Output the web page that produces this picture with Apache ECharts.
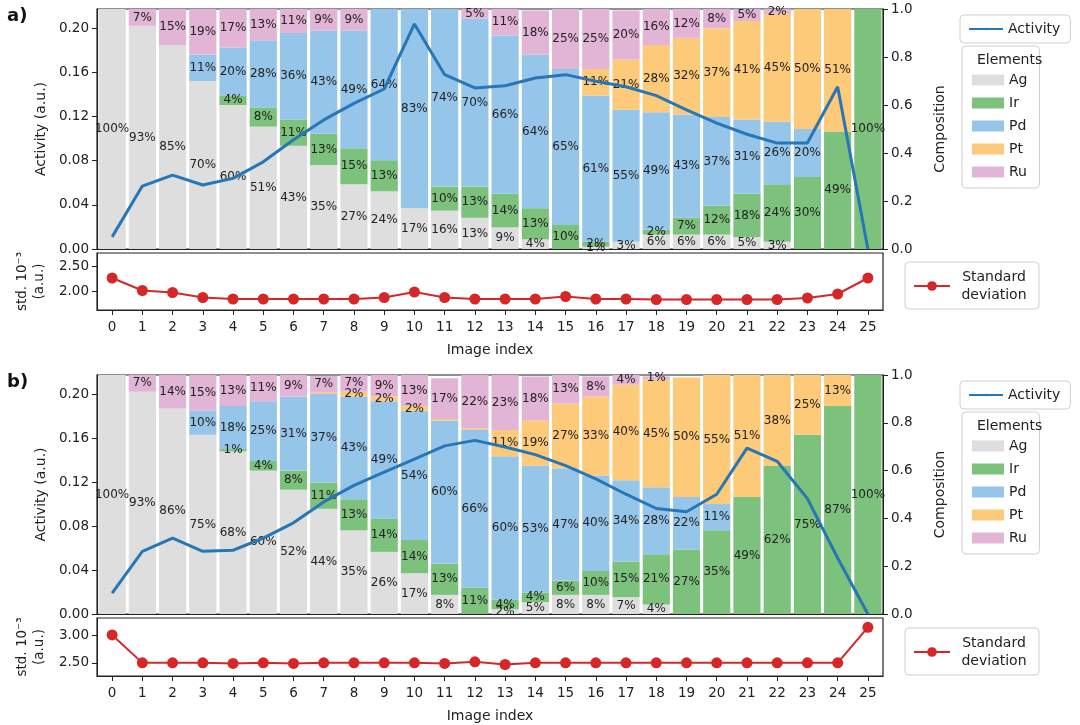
<!DOCTYPE html>
<html><head><meta charset="utf-8">
<script src="https://cdn.jsdelivr.net/npm/echarts@6/dist/echarts.min.js"></script>
<style>html,body{margin:0;padding:0;background:#fff}#c{width:1080px;height:725px}</style>
</head><body><div id="c"></div>
<script>
const categories = ['0','1','2','3','4','5','6','7','8','9','10','11','12','13','14','15','16','17','18','19','20','21','22','23','24','25'];
const elements = ['Ag','Ir','Pd','Pt','Ru'];
// Panel a compositions (%)
const agA = [100,93,85,70,60,51,43,35,27,24,17,16,13,9,4,0,1,3,6,6,6,5,3,0,0,0];
const irA = [0,0,0,0,4,8,11,13,15,13,0,10,13,14,13,10,2,0,2,7,12,18,24,30,49,100];
const pdA = [0,0,0,11,20,28,36,43,49,64,83,74,70,66,64,65,61,55,49,43,37,31,26,20,0,0];
const ptA = [0,0,0,0,0,0,0,0,0,0,0,0,0,0,0,0,11,21,28,32,37,41,45,50,51,0];
const ruA = [0,7,15,19,17,13,11,9,9,0,0,0,5,11,18.4,25,25,20.4,16,12,8,5,2,0,0,0];
// Panel b compositions (%)
const agB = [100,93,86,75,68,60,52,44,35,26,17,8,0,2,5,8,8,7,4,0,0,0,0,0,0,0];
const irB = [0,0,0,0,1,4,8,11,13,14,14,13,11,4,4,6,10,15,21,27,35,49,62,75,87,100];
const pdB = [0,0,0,10,18,25,31,37,43,49,54,60,66,60,53,47,40,34,28,22,11,0,0,0,0,0];
const ptB = [0,0,0,0,0,0,0,0.6,2,2,2,0.6,0.6,11,19,27,33,40,45,50,55,51,38,25,13,0];
const ruB = [0,7,14,15,13,11,9,7,7,9,13,17,22.4,23,18.4,13,8.4,4,1.4,0,0,0,0,0,0,0];
// Activity (a.u.)
const actA = [0.011,0.057,0.067,0.058,0.064,0.079,0.099,0.117,0.132,0.145,0.204,0.158,0.146,0.148,0.155,0.158,0.152,0.147,0.139,0.126,0.114,0.104,0.096,0.096,0.147,0.0];
const actB = [0.019,0.057,0.069,0.057,0.058,0.069,0.083,0.102,0.117,0.129,0.141,0.153,0.158,0.152,0.145,0.135,0.123,0.109,0.096,0.093,0.109,0.151,0.139,0.105,0.051,0.0];
// Standard deviation (10^-3 a.u.)
const stdA = [2.27,2.02,1.98,1.88,1.85,1.85,1.85,1.85,1.85,1.88,1.99,1.88,1.85,1.85,1.85,1.90,1.85,1.85,1.84,1.84,1.84,1.84,1.84,1.87,1.95,2.27];
const stdB = [3.01,2.50,2.50,2.50,2.49,2.50,2.49,2.50,2.50,2.50,2.50,2.49,2.52,2.47,2.50,2.50,2.50,2.50,2.50,2.50,2.50,2.50,2.50,2.50,2.50,3.15];
const activityTicks = [0,0.04,0.08,0.12,0.16,0.20];
const stdTicksA = [2.0,2.5];
const stdTicksB = [2.5,3.0];

const colors = {Ag:'#dedede', Ir:'#7cc17c', Pd:'#96c5ea', Pt:'#fdca7a', Ru:'#e2b4d5'};
const FONT = 'DejaVu Sans';
const chart = echarts.init(document.getElementById('c'));

const grids = [
  {left:97, right:197, top:9, height:240},
  {left:97, right:197, top:253, height:57},
  {left:97, right:197, top:375, height:239},
  {left:97, right:197, top:618, height:58}
].map(g => Object.assign(g, {show:true, borderColor:'#222', borderWidth:1.2, backgroundColor:'transparent', containLabel:false}));

function xAx(gi, showLabels){
  return {type:'category', gridIndex:gi, data:categories, boundaryGap:true,
    axisLine:{show:true, lineStyle:{color:'#222'}},
    axisTick:{show:showLabels, alignWithLabel:true, length:5, lineStyle:{color:'#222'}},
    axisLabel:{show:showLabels, color:'#222', fontSize:13.5, fontFamily:FONT, margin:10},
    name: showLabels ? 'Image index' : '', nameLocation:'middle', nameGap:33,
    nameTextStyle:{color:'#222', fontSize:14, fontFamily:FONT}};
}
function actAxis(gi){
  return {type:'value', gridIndex:gi, position:'left', min:0, max:0.2175,
    splitLine:{show:false},
    axisLine:{show:true, lineStyle:{color:'#222'}},
    axisTick:{show:true, length:5, customValues:activityTicks, lineStyle:{color:'#222'}},
    axisLabel:{color:'#222', fontSize:13.5, fontFamily:FONT, customValues:activityTicks, formatter:v=>v.toFixed(2)},
    name:'Activity (a.u.)', nameLocation:'middle', nameGap:42, nameRotate:90,
    nameTextStyle:{color:'#222', fontSize:14, fontFamily:FONT}};
}
function compAxis(gi){
  return {type:'value', gridIndex:gi, position:'right', min:0, max:1, interval:0.2,
    splitLine:{show:false},
    axisLine:{show:true, lineStyle:{color:'#222'}},
    axisTick:{show:true, length:5, lineStyle:{color:'#222'}},
    axisLabel:{color:'#222', fontSize:13.5, fontFamily:FONT, formatter:v=>v.toFixed(1)},
    name:'Composition', nameLocation:'middle', nameGap:50, nameRotate:90,
    nameTextStyle:{color:'#222', fontSize:14, fontFamily:FONT}};
}
function stdAxis(gi, mn, mx, ticks){
  return {type:'value', gridIndex:gi, position:'left', min:mn, max:mx,
    splitLine:{show:false},
    axisLine:{show:true, lineStyle:{color:'#222'}},
    axisTick:{show:true, length:5, customValues:ticks, lineStyle:{color:'#222'}},
    axisLabel:{color:'#222', fontSize:13.5, fontFamily:FONT, customValues:ticks, formatter:v=>v.toFixed(2)},
    name:'std. 10⁻³\n(a.u.)', nameLocation:'middle', nameGap:44, nameRotate:90,
    nameTextStyle:{color:'#222', fontSize:13.5, fontFamily:FONT, lineHeight:17}};
}

function barSeries(name, data, xi, yi){
  return {name, type:'bar', stack:'comp'+yi, xAxisIndex:xi, yAxisIndex:yi,
    data:data.map(v=>v/100), barCategoryGap:'10%',
    itemStyle:{color:colors[name]},
    label:{show:true, position:'inside', color:'#222', fontSize:12, fontFamily:FONT,
      formatter:p=> (p.value*100 >= 1 ? Math.round(p.value*100)+'%' : '')},
    emphasis:{disabled:true}, z:2};
}
function actSeries(data, xi, yi){
  return {name:'Activity', type:'line', xAxisIndex:xi, yAxisIndex:yi, data, symbol:'none',
    lineStyle:{color:'#2776b6', width:3}, itemStyle:{color:'#2776b6'}, z:5};
}
function stdSeries(data, xi, yi){
  return {name:'Standard deviation', type:'line', xAxisIndex:xi, yAxisIndex:yi, data,
    symbol:'circle', symbolSize:11, lineStyle:{color:'#d62728', width:2}, itemStyle:{color:'#d62728'}, z:5};
}

const sets = [[agA,irA,pdA,ptA,ruA],[agB,irB,pdB,ptB,ruB]];
const series = [];
sets[0].forEach((d,i)=>series.push(barSeries(elements[i], d, 0, 1)));
series.push(actSeries(actA, 0, 0));
series.push(stdSeries(stdA, 1, 2));
sets[1].forEach((d,i)=>series.push(barSeries(elements[i], d, 2, 4)));
series.push(actSeries(actB, 2, 3));
series.push(stdSeries(stdB, 3, 5));

const legBase = {orient:'vertical', backgroundColor:'#fff', borderColor:'#cfcfcf', borderWidth:1, borderRadius:4,
  textStyle:{color:'#222', fontSize:14, fontFamily:FONT}, selectedMode:false};
function legends(off){
  return [
    Object.assign({}, legBase, {data:['Activity'], left:960, top:15+off, itemWidth:34, itemHeight:3, padding:[7,10,7,8]}),
    Object.assign({}, legBase, {data:elements.map(n=>({name:n, icon:'rect'})), left:962, top:46+off, itemWidth:32, itemHeight:11, itemGap:9, padding:[27,12,9,10]}),
    Object.assign({}, legBase, {data:['Standard deviation'], left:905, top:262+off, itemWidth:36, itemHeight:12, padding:[6,6,5,8],
      formatter:n=>'{c|Standard}\n{c|deviation}',
      textStyle:{color:'#222', fontSize:14, fontFamily:FONT, lineHeight:18,
        rich:{c:{width:78, align:'center', fontSize:14, fontFamily:FONT, color:'#222', lineHeight:18}}}})
  ];
}
const off = 366;
const option = {
  animation:false,
  title:[
    {text:'a)', left:2, top:2, textStyle:{fontSize:18, fontWeight:'bold', color:'#111', fontFamily:FONT}},
    {text:'b)', left:2, top:368, textStyle:{fontSize:18, fontWeight:'bold', color:'#111', fontFamily:FONT}},
    {text:'Elements', left:972, top:48, z:10, textStyle:{fontSize:14, fontWeight:'normal', color:'#222', fontFamily:FONT}},
    {text:'Elements', left:972, top:48+off, z:10, textStyle:{fontSize:14, fontWeight:'normal', color:'#222', fontFamily:FONT}}
  ],
  legend: legends(0).concat(legends(off)),
  grid: grids,
  xAxis:[xAx(0,false), xAx(1,true), xAx(2,false), xAx(3,true)],
  yAxis:[actAxis(0), compAxis(0), stdAxis(1,1.63,2.77,stdTicksA), actAxis(2), compAxis(2), stdAxis(3,2.26,3.32,stdTicksB)],
  series
};
chart.setOption(option);
</script></body></html>
